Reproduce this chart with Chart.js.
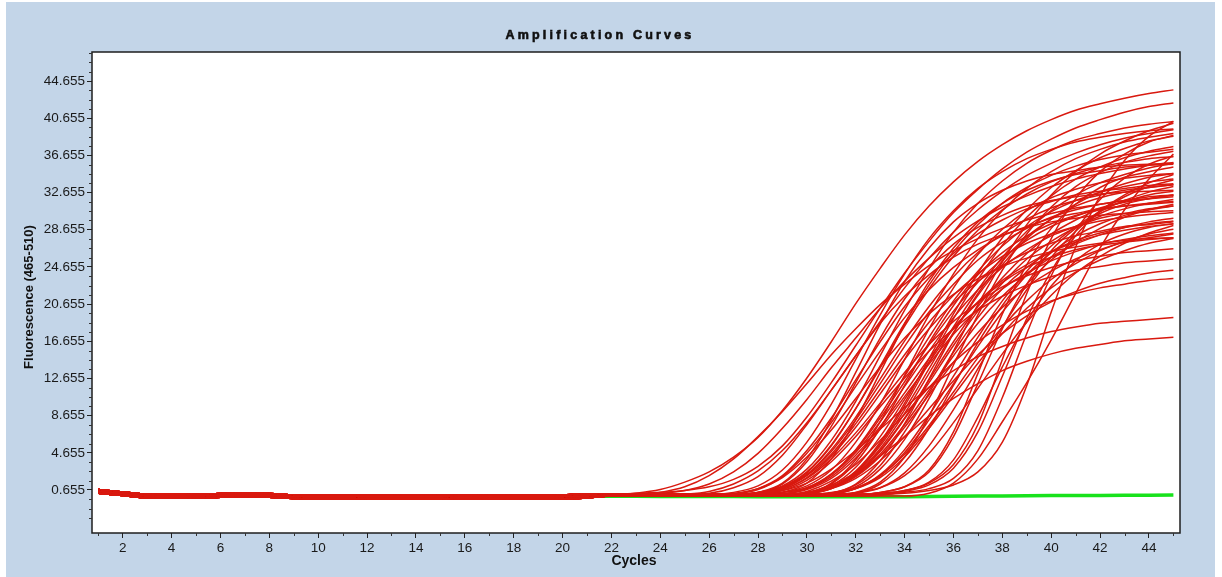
<!DOCTYPE html>
<html>
<head>
<meta charset="utf-8">
<title>Amplification Curves</title>
<script src="https://cdn.jsdelivr.net/npm/chart.js@4.4.1/dist/chart.umd.min.js"></script>
<style>
  html, body { margin: 0; padding: 0; background: #fff; }
  #wrap { position: relative; width: 1222px; height: 577px; }
</style>
</head>
<body>
<div id="wrap"><canvas id="ampChart" width="1222" height="577"></canvas></div>
<script>
// cycle numbers (x)
const cycles = [1,2,3,4,5,6,7,8,9,10,11,12,13,14,15,16,17,18,19,20,21,22,23,24,25,26,27,28,29,30,31,32,33,34,35,36,37,38,39,40,41,42,43,44,45];

// tick labels
const xTickValues = [2,4,6,8,10,12,14,16,18,20,22,24,26,28,30,32,34,36,38,40,42,44];
const yTickValues = [0.655,4.655,8.655,12.655,16.655,20.655,24.655,28.655,32.655,36.655,40.655,44.655];

// baseline, cycles 1-21 (three slightly offset bands)
const baseLow  = [0.3,0.05,-0.2,-0.22,-0.2,-0.12,-0.1,-0.12,-0.26,-0.28,-0.28,-0.27,-0.27,-0.26,-0.27,-0.32,-0.28,-0.3,-0.3,-0.28,-0.2];
const baseMid  = [0.5,0.25,0.0,-0.02,0.0,0.08,0.1,0.08,-0.06,-0.08,-0.08,-0.07,-0.07,-0.06,-0.07,-0.12,-0.08,-0.1,-0.1,-0.08,0.0];
const baseHigh = [0.7,0.45,0.2,0.18,0.2,0.28,0.3,0.28,0.14,0.12,0.12,0.13,0.13,0.14,0.13,0.08,0.12,0.1,0.1,0.12,0.2];

// red samples, cycles 22-45
const s01 = [0.1,0.3,0.7,1.5,2.6,4.2,6.3,9.2,12.7,16.6,20.7,24.5,28.1,31.2,33.8,36.0,37.8,39.3,40.5,41.5,42.2,42.8,43.3,43.7];
const s02 = [0.2,0.3,0.4,0.6,1.0,1.8,3.2,5.4,8.5,12.2,16.2,20.2,24.0,27.4,30.5,33.0,35.2,37.0,38.4,39.6,40.5,41.3,41.9,42.3];
const s03 = [0.0,0.0,0.1,0.2,0.5,1.3,2.7,4.9,7.9,11.4,15.1,18.8,22.4,25.6,28.4,30.8,32.8,34.5,35.8,36.9,37.8,38.5,39.0,39.4];
const s04 = [0.2,0.2,0.3,0.6,1.3,2.6,4.6,7.3,10.4,13.8,17.0,20.2,23.1,25.6,27.8,29.6,31.1,32.3,33.3,34.1,34.7,35.2,35.6,35.9];
const s05 = [0.0,0.1,0.4,1.0,2.2,4.0,6.4,9.1,12.1,15.2,18.0,20.6,22.8,24.8,26.4,27.7,28.8,29.7,30.4,31.0,31.4,31.8,32.0,32.2];
const s06 = [0.2,0.2,0.2,0.2,0.2,0.4,1.1,2.8,5.8,9.9,14.7,19.5,23.9,27.7,30.7,33.1,34.9,36.3,37.3,38.1,38.6,39.0,39.3,39.5];
const s07 = [0.0,0.0,0.0,0.0,0.0,0.2,0.8,2.2,4.9,8.4,12.5,16.6,20.4,23.5,26.1,28.2,29.7,30.9,31.7,32.4,32.8,33.1,33.4,33.6];
const s08 = [0.2,0.2,0.2,0.2,0.3,0.9,2.1,4.4,7.7,11.4,15.1,18.6,21.5,23.8,25.7,27.1,28.1,28.9,29.5,29.9,30.2,30.4,30.6,30.7];
const s09 = [0.0,0.0,0.0,0.0,0.0,0.0,0.2,0.9,2.5,5.4,9.4,14.0,18.6,22.7,26.3,29.2,31.5,33.2,34.5,35.5,36.2,36.7,37.0,37.3];
const s10 = [0.2,0.2,0.2,0.2,0.2,0.2,0.4,0.9,2.3,4.8,8.2,12.1,16.1,19.8,22.8,25.4,27.3,28.8,30.0,30.8,31.4,31.8,32.2,32.4];
const s11 = [0.0,0.0,0.0,0.0,0.0,0.0,0.2,0.7,2.0,4.3,7.4,11.0,14.7,18.0,20.8,23.1,24.8,26.2,27.2,28.0,28.5,29.0,29.2,29.5];
const s12 = [0.2,0.2,0.2,0.2,0.2,0.2,0.4,1.1,2.9,6.0,10.2,15.1,20.0,24.5,28.4,31.5,33.9,35.8,37.2,38.3,39.0,39.6,40.0,40.3];
const s13 = [0.0,0.0,0.0,0.0,0.0,0.0,0.0,0.2,0.8,2.3,5.0,8.7,12.9,17.1,21.0,24.2,26.9,29.0,30.6,31.8,32.7,33.3,33.8,34.1];
const s14 = [0.2,0.2,0.2,0.2,0.2,0.2,0.2,0.4,0.9,2.3,4.7,8.0,11.8,15.6,19.2,22.2,24.6,26.5,28.0,29.0,29.9,30.4,30.9,31.2];
const s15 = [0.0,0.0,0.0,0.0,0.0,0.0,0.0,0.2,0.7,1.9,4.1,7.2,10.7,14.2,17.4,20.1,22.3,24.0,25.3,26.3,27.1,27.6,28.0,28.3];
const s16 = [0.2,0.2,0.2,0.2,0.2,0.2,0.2,0.4,1.1,2.8,5.8,9.9,14.7,19.5,23.9,27.7,30.7,33.1,34.9,36.3,37.3,38.1,38.6,39.0];
const s17 = [0.0,0.0,0.0,0.0,0.0,0.0,0.0,0.0,0.2,0.8,2.2,4.9,8.4,12.5,16.6,20.4,23.5,26.1,28.2,29.7,30.9,31.7,32.4,32.8];
const s18 = [0.2,0.2,0.2,0.2,0.2,0.2,0.2,0.2,0.4,0.9,2.2,4.5,7.7,11.4,15.1,18.6,21.5,23.8,25.7,27.1,28.1,28.9,29.5,29.9];
const s19 = [0.0,0.0,0.0,0.0,0.0,0.0,0.0,0.0,0.2,0.8,2.4,5.1,8.9,13.2,17.6,21.6,24.9,27.7,29.8,31.4,32.7,33.6,34.3,34.7];
const s20 = [0.2,0.2,0.2,0.2,0.2,0.2,0.2,0.2,0.4,0.9,2.1,4.3,7.4,10.9,14.4,17.6,20.3,22.5,24.2,25.5,26.5,27.3,27.8,28.2];
const s21 = [0.0,0.0,0.0,0.0,0.0,0.0,0.0,0.0,0.0,0.2,0.8,2.2,4.7,8.2,12.1,16.1,19.8,22.8,25.4,27.3,28.8,30.0,30.8,31.4];
const s22 = [0.2,0.2,0.2,0.2,0.2,0.2,0.2,0.2,0.2,0.4,0.9,2.2,4.5,7.6,11.2,14.9,18.2,21.0,23.3,25.0,26.4,27.4,28.2,28.7];
const s23 = [0.0,0.0,0.0,0.0,0.0,0.0,0.0,0.0,0.0,0.2,0.8,2.3,5.0,8.7,12.9,17.1,21.0,24.2,26.9,29.0,30.6,31.8,32.7,33.3];
const s24 = [0.2,0.2,0.2,0.2,0.2,0.2,0.2,0.2,0.2,0.2,0.4,0.9,2.2,4.6,7.9,11.6,15.3,18.7,21.6,24.0,25.8,27.2,28.3,29.1];
const s25 = [0.0,0.0,0.0,0.0,0.0,0.0,0.1,0.6,1.7,3.7,6.4,9.6,12.7,15.6,18.0,20.0,21.5,22.7,23.6,24.3,24.7,25.1,25.3,25.5];
const s26 = [0.2,0.2,0.2,0.2,0.2,0.2,0.2,0.2,0.3,0.8,1.9,3.8,6.4,9.4,12.4,15.2,17.5,19.4,20.9,22.0,22.9,23.5,24.0,24.3];
const s27 = [0.0,0.0,0.0,0.0,0.0,0.0,0.0,0.1,0.5,1.6,3.4,6.0,8.8,11.7,14.4,16.6,18.4,19.9,21.0,21.8,22.4,22.8,23.2,23.4];
const s28 = [0.2,0.2,0.2,0.2,0.2,0.2,0.3,0.6,1.4,2.9,4.9,7.2,9.5,11.7,13.5,15.0,16.1,17.0,17.7,18.2,18.6,18.8,19.0,19.2];
const s29 = [0.0,0.0,0.0,0.0,0.0,0.0,0.0,0.1,0.4,1.2,2.5,4.3,6.4,8.6,10.5,12.1,13.5,14.5,15.3,15.9,16.3,16.7,16.9,17.1];
const s30 = [0.2,0.2,0.2,0.2,0.2,0.2,0.2,0.2,0.2,0.2,0.2,0.3,0.6,1.4,3.4,7.7,14.7,21.8,27.7,32.0,34.9,36.8,38.1,38.8];
const s31 = [0.0,0.0,0.0,0.0,0.0,0.0,0.0,0.0,0.0,0.0,0.0,0.1,0.5,1.2,3.0,6.9,12.9,19.1,24.2,28.0,30.6,32.2,33.3,34.0];
const s32 = [0.2,0.2,0.2,0.2,0.2,0.2,0.2,0.2,0.2,0.2,0.2,0.2,0.3,0.6,1.2,2.6,5.8,11.9,19.8,26.8,32.3,36.1,38.7,40.3];
const s33 = [0.0,0.0,0.0,0.0,0.0,0.0,0.0,0.0,0.0,0.0,0.0,0.0,0.0,0.3,1.4,4.0,8.0,12.2,16.8,21.8,26.7,30.8,34.1,36.8];
const s34 = [0.2,0.2,0.2,0.2,0.2,0.2,0.2,0.2,0.2,0.2,0.2,0.2,0.4,0.8,1.9,4.9,10.6,17.5,23.7,28.5,31.9,34.2,35.7,36.6];
const s35 = [0.0,0.0,0.0,0.0,0.0,0.0,0.0,0.0,0.0,0.0,0.1,0.4,1.0,2.6,6.4,12.1,18.0,22.8,26.4,28.8,30.4,31.4,32.0,32.4];
const s36 = [0.2,0.2,0.2,0.2,0.2,0.2,0.2,0.2,0.2,0.2,0.2,0.3,0.6,1.5,3.9,8.5,13.9,18.8,22.6,25.3,27.1,28.2,28.9,29.3];
const s37 = [0.0,0.0,0.0,0.0,0.0,0.0,0.0,0.0,0.0,0.0,0.1,0.4,1.0,2.8,6.9,13.2,19.6,24.9,28.8,31.4,33.2,34.3,34.9,35.4];
const s38 = [0.2,0.2,0.2,0.2,0.2,0.2,0.4,1.0,2.6,5.5,9.4,13.8,18.3,22.3,25.8,28.6,30.8,32.5,33.8,34.7,35.4,35.9,36.3,36.5];
const s39 = [0.0,0.0,0.0,0.0,0.0,0.2,0.7,2.1,4.6,7.9,11.8,15.6,19.2,22.2,24.6,26.5,28.0,29.0,29.9,30.4,30.9,31.2,31.4,31.6];
const s40 = [0.2,0.2,0.2,0.2,0.2,0.3,0.8,2.0,4.2,7.1,10.5,13.9,17.0,19.6,21.7,23.4,24.7,25.6,26.3,26.8,27.2,27.5,27.7,27.8];
const s41 = [0.0,0.0,0.0,0.0,0.0,0.0,0.0,0.0,0.2,0.9,2.6,5.6,9.7,14.4,19.1,23.3,27.0,30.0,32.3,34.1,35.4,36.4,37.1,37.6];
const s42 = [0.2,0.2,0.2,0.2,0.2,0.2,0.2,0.4,0.9,2.4,4.9,8.4,12.3,16.3,19.9,23.0,25.5,27.5,29.0,30.1,31.0,31.6,32.0,32.4];
const s43 = [0.1,0.1,0.1,0.1,0.1,0.1,0.1,0.4,1.4,4.0,8.2,13.3,18.5,23.1,26.7,29.5,31.5,32.9,33.9,34.6,35.0,35.4,35.6,35.7];
const s44 = [0.1,0.1,0.1,0.1,0.1,0.1,0.1,0.1,0.3,1.3,3.6,7.3,11.9,16.5,20.5,23.8,26.2,28.0,29.3,30.2,30.8,31.2,31.5,31.7];
const s45 = [0.1,0.1,0.1,0.1,0.1,0.1,0.1,0.1,0.1,0.3,1.3,3.8,7.8,12.6,17.5,21.8,25.3,27.9,29.8,31.2,32.1,32.7,33.2,33.5];
const s46 = [0.1,0.1,0.1,0.1,0.1,0.1,0.1,0.2,0.8,2.1,4.4,7.5,11.1,14.8,18.1,20.9,23.2,24.9,26.3,27.3,28.1,28.6,29.0,29.3];
const s47 = [0.1,0.1,0.1,0.1,0.1,0.1,0.4,1.4,4.0,8.2,13.3,18.5,23.1,26.7,29.5,31.5,32.9,33.9,34.6,35.0,35.4,35.6,35.7,35.8];
const s48 = [0.1,0.1,0.1,0.1,0.1,0.1,0.1,0.1,0.3,0.9,2.3,4.8,8.3,12.2,16.2,19.9,22.9,25.5,27.4,28.9,30.1,30.9,31.5,31.9];
const s49 = [0.1,0.1,0.1,0.1,0.1,0.1,0.1,0.1,0.1,0.1,0.4,1.5,4.2,8.6,14.1,19.5,24.3,28.2,31.1,33.3,34.8,35.9,36.6,37.1];
const s50 = [0.1,0.1,0.1,0.1,0.1,0.1,0.3,0.8,2.2,4.5,7.8,11.5,15.2,18.7,21.6,23.9,25.8,27.2,28.2,29.0,29.6,30.0,30.3,30.5];
const s51 = [0.1,0.1,0.1,0.1,0.1,0.1,0.1,0.1,0.3,1.4,3.9,8.0,13.0,18.0,22.4,26.0,28.7,30.7,32.1,33.0,33.7,34.2,34.5,34.7];
const s52 = [0.1,0.1,0.1,0.1,0.1,0.1,0.1,0.1,0.1,0.2,0.8,2.0,4.2,7.3,10.8,14.3,17.5,20.2,22.4,24.1,25.4,26.4,27.2,27.7];
const s53 = [0.1,0.1,0.1,0.1,0.1,0.1,0.1,0.1,0.3,0.9,2.5,5.4,9.3,13.7,18.2,22.2,25.7,28.5,30.7,32.4,33.7,34.6,35.3,35.8];
const s54 = [0.1,0.1,0.1,0.1,0.1,0.1,0.3,1.3,3.7,7.5,12.2,17.0,21.2,24.5,27.1,28.9,30.2,31.2,31.8,32.2,32.5,32.7,32.8,32.9];
const s55 = [0.1,0.1,0.1,0.1,0.1,0.1,0.1,0.1,0.1,0.3,1.2,3.3,6.9,11.1,15.5,19.2,22.3,24.6,26.3,27.5,28.3,28.9,29.3,29.6];
const s56 = [0.1,0.1,0.1,0.1,0.1,0.1,0.1,0.1,0.3,1.0,2.7,5.8,10.0,14.8,19.6,24.0,27.8,30.8,33.2,35.0,36.4,37.4,38.2,38.7];
const s57 = [0.1,0.1,0.1,0.1,0.1,0.1,0.1,0.1,0.1,0.1,0.3,1.3,3.6,7.3,11.9,16.5,20.5,23.8,26.2,28.0,29.3,30.2,30.8,31.2];
const s58 = [0.1,0.1,0.1,0.1,0.1,0.1,0.3,0.9,2.3,5.0,8.5,12.6,16.7,20.4,23.6,26.2,28.2,29.8,31.0,31.8,32.4,32.9,33.2,33.5];
const s59 = [0.1,0.1,0.1,0.1,0.1,0.1,0.1,0.1,0.3,1.1,3.1,6.4,10.4,14.4,18.0,20.8,23.0,24.6,25.7,26.5,27.0,27.3,27.6,27.8];
const s60 = [0.1,0.1,0.1,0.1,0.1,0.1,0.1,0.1,0.1,0.1,0.3,0.9,2.5,5.4,9.3,13.7,18.2,22.2,25.7,28.5,30.7,32.4,33.7,34.6];
const s61 = [0.1,0.1,0.1,0.1,0.1,0.1,0.1,0.1,0.1,0.3,1.0,2.9,6.1,10.5,15.6,20.6,25.2,29.2,32.4,34.9,36.8,38.2,39.3,40.1];
const s62 = [0.1,0.1,0.1,0.1,0.1,0.1,0.2,0.7,1.9,4.0,6.8,10.0,13.3,16.3,18.8,20.8,22.5,23.7,24.6,25.3,25.8,26.2,26.4,26.6];

const lowBaseSamples  = [s01,s03,s05,s07,s09,s11,s13,s15,s17,s19,s21,s23,s25,s27,s29,s31,s33,s35,s37,s39,s41];
const highBaseSamples = [s02,s04,s06,s08,s10,s12,s14,s16,s18,s20,s22,s24,s26,s28,s30,s32,s34,s36,s38,s40,s42];
const midBaseSamples  = [s43,s44,s45,s46,s47,s48,s49,s50,s51,s52,s53,s54,s55,s56,s57,s58,s59,s60,s61,s62];

// negative control, cycles 1-45
const negControl = [0.5,0.25,0.0,-0.02,0.0,0.08,0.1,0.08,-0.06,-0.08,-0.08,-0.07,-0.07,-0.06,-0.07,-0.12,-0.08,-0.1,-0.1,-0.08,-0.02,
                    -0.03,-0.03,-0.04,-0.04,-0.05,-0.05,-0.06,-0.07,-0.08,-0.08,-0.08,-0.08,-0.07,-0.05,-0.03,0.0,0.02,0.04,0.05,
                    0.06,0.07,0.08,0.1,0.12];

function toPoints(vals) {
  return vals.map((v, i) => ({ x: cycles[i], y: v }));
}

let datasets = [];
function addRed(list, base) {
  list.forEach((s) => {
    datasets.push({
      label: 'Sample ' + (datasets.length + 1),
      data: toPoints(base.concat(s)),
      borderColor: '#d9190f',
      borderWidth: 1.5,
      pointRadius: 0,
      cubicInterpolationMode: 'monotone',
      order: 0
    });
  });
}
addRed(lowBaseSamples, baseLow);
addRed(midBaseSamples, baseMid);
addRed(highBaseSamples, baseHigh);

datasets.push({
  label: 'Negative',
  data: toPoints(negControl),
  borderColor: '#18e21c',
  borderWidth: 3.5,
  pointRadius: 0,
  order: 1
});

const fontFam = '"Liberation Sans", Arial, sans-serif';

//backgrounds, frame, minor ticks and titles
const framePlugin = {
  id: 'frame',
  beforeDraw(chart) {
    let ctx = chart.ctx, a = chart.chartArea;
    ctx.save();
    ctx.fillStyle = '#ffffff';
    ctx.fillRect(0, 0, chart.width, chart.height);
    ctx.fillStyle = '#c3d5e8';
    ctx.fillRect(6, 2, 1209, 575);
    ctx.fillStyle = '#ffffff';
    ctx.fillRect(a.left, a.top, a.right - a.left, a.bottom - a.top);
    ctx.restore();
  },
  afterDatasetsDraw(chart) {
    let ctx = chart.ctx, a = chart.chartArea;
    let xs = chart.scales.x, ys = chart.scales.y;
    ctx.save();
    ctx.strokeStyle = '#1e1e1e';
    ctx.lineWidth = 1.5;
    ctx.strokeRect(a.left, a.top, a.right - a.left, a.bottom - a.top);
    // minor ticks
    ctx.lineWidth = 1;
    ctx.strokeStyle = '#333';
    ctx.beginPath();
    for (let k = -4; k <= 47; k++) {
      if (k % 4 === 0) continue;
      let py = ys.getPixelForValue(0.655 + k);
      if (py < a.top || py > a.bottom) continue;
      ctx.moveTo(a.left - 3, Math.round(py) + 0.5);
      ctx.lineTo(a.left, Math.round(py) + 0.5);
    }
    for (let c = 1; c <= 45; c += 2) {
      let px = xs.getPixelForValue(c);
      ctx.moveTo(Math.round(px) + 0.5, a.bottom);
      ctx.lineTo(Math.round(px) + 0.5, a.bottom + 3);
    }
    ctx.stroke();
    ctx.restore();
  },
  afterDraw(chart) {
    let ctx = chart.ctx;
    ctx.save();
    ctx.fillStyle = '#111';
    ctx.strokeStyle = '#111';
    ctx.textAlign = 'center';
    ctx.textBaseline = 'middle';
    ctx.font = 'bold 12.5px ' + fontFam;
    if ('letterSpacing' in ctx) ctx.letterSpacing = '3.2px';
    ctx.lineWidth = 0.6;
    ctx.fillText('Amplification Curves', 600, 36);
    ctx.strokeText('Amplification Curves', 600, 36);
    if ('letterSpacing' in ctx) ctx.letterSpacing = '0px';
    ctx.font = 'bold 14px ' + fontFam;
    ctx.fillText('Cycles', 634, 561);
    ctx.translate(29, 297);
    ctx.rotate(-Math.PI / 2);
    ctx.font = 'bold 13px ' + fontFam;
    ctx.fillText('Fluorescence (465-510)', 0, 0);
    ctx.restore();
  }
};

new Chart(document.getElementById('ampChart'), {
  type: 'line',
  data: { datasets: datasets },
  plugins: [framePlugin],
  options: {
    responsive: false,
    animation: false,
    events: [],
    layout: { padding: { left: 0, right: 42, top: 52, bottom: 0 } },
    plugins: {
      legend: { display: false },
      tooltip: { enabled: false },
      title: { display: false }
    },
    scales: {
      x: {
        type: 'linear',
        min: 0.743,
        max: 45.27,
        afterBuildTicks: (scale) => { scale.ticks = xTickValues.map(v => ({ value: v })); },
        afterFit: (scale) => { scale.height = 44; },
        border: { display: false },
        grid: { display: true, drawOnChartArea: false, drawTicks: true, tickLength: 5, tickColor: '#222' },
        ticks: {
          autoSkip: false,
          maxRotation: 0,
          padding: 2,
          color: '#1a1a1a',
          font: { family: fontFam, size: 13.5 },
          callback: (v) => String(v)
        }
      },
      y: {
        type: 'linear',
        min: -3.971,
        max: 47.775,
        afterBuildTicks: (scale) => { scale.ticks = yTickValues.map(v => ({ value: v })); },
        afterFit: (scale) => { scale.width = 92; },
        border: { display: false },
        grid: { display: true, drawOnChartArea: false, drawTicks: true, tickLength: 5, tickColor: '#222' },
        ticks: {
          autoSkip: false,
          padding: 2,
          color: '#1a1a1a',
          font: { family: fontFam, size: 13.5 },
          callback: (v) => Number(v).toFixed(3)
        }
      }
    }
  }
});
</script>
</body>
</html>
